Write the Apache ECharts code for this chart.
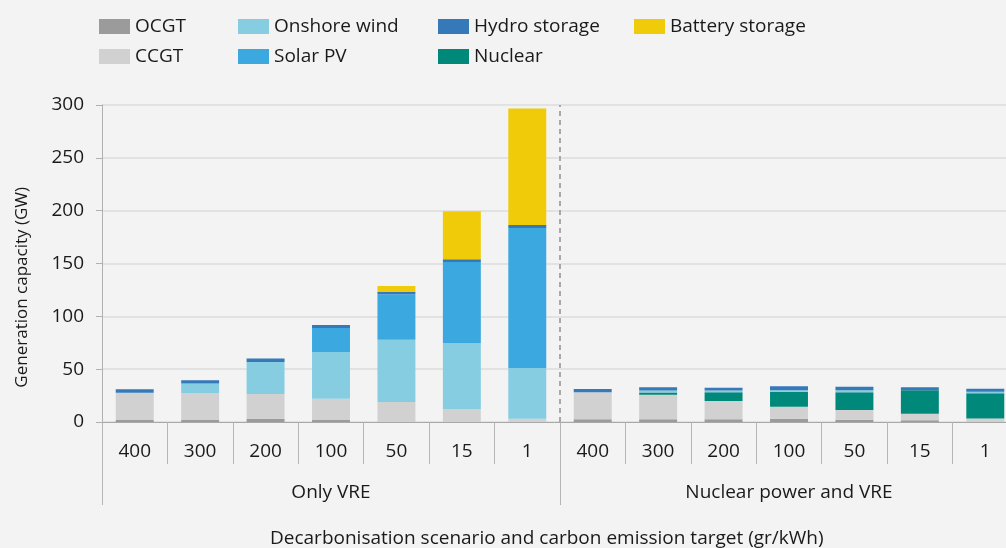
<!DOCTYPE html>
<html>
<head>
<meta charset="utf-8">
<script src="https://cdn.jsdelivr.net/npm/echarts@6/dist/echarts.min.js"></script>
<style>
  html, body { margin: 0; padding: 0; background: #f3f3f3; }
  #chart { width: 1006px; height: 548px; }
</style>
</head>
<body>
<div id="chart"></div>
<script>
// carbon target per scenario (gr/kWh)
var targets = ["400", "300", "200", "100", "50", "15", "1", "400", "300", "200", "100", "50", "15", "1"];
var scenarios = ["Only VRE", "Nuclear power and VRE"];
var yTicks = [0, 50, 100, 150, 200, 250, 300];

// generation capacity, GW
var ocgt = [2, 2, 3, 2, 0, 0, 0, 2.5, 2.5, 2.5, 3, 2.2, 1.6, 0];
var ccgt = [25.7, 25.4, 23.5, 20, 18.9, 12.3, 3, 25.6, 23.4, 17.4, 11.5, 9.2, 6.3, 3.2];
var nuclear = [0, 0, 0, 0, 0, 0, 0, 0, 1.9, 8.2, 14.2, 16.7, 22.1, 23.9];
var onshoreWind = [0, 9, 30.3, 44.2, 59, 62.4, 48, 0, 1.9, 1.6, 1.3, 1.9, 0, 1.6];
var solarPV = [0, 0, 0, 22.8, 43, 76.8, 132.7, 0, 0, 0, 0, 0, 0, 0];
var hydroStorage = [3.3, 3, 3.2, 2.8, 2.2, 2.6, 2.8, 3.1, 3.1, 2.8, 3.8, 3.4, 2.8, 2.8];
var batteryStorage = [0, 0, 0, 0, 5.7, 45.4, 110.3, 0, 0, 0, 0, 0, 0, 0];

var FONT = "Open Sans";
var TEXT = "#1a1a1a";
var myChart = null;

window.onload = function () {
  myChart = echarts.init(document.getElementById("chart"));
  drawChart();
};

function barSeries(name, data, color) {
  return {
    name: name,
    type: "bar",
    stack: "total",
    barWidth: "58%",
    xAxisIndex: 0,
    itemStyle: { color: color },
    data: data,
  };
}

function legendCol(left, names) {
  return {
    orient: "vertical",
    left: left,
    top: 12,
    itemGap: 11,
    itemWidth: 31,
    itemHeight: 15,
    icon: "rect",
    textStyle: { fontFamily: FONT, fontSize: 19, color: TEXT },
    data: names,
  };
}

function drawChart() {
  myChart.setOption({
    backgroundColor: "#f3f3f3",
    animation: false,
    textStyle: { fontFamily: FONT },
    legend: [
      legendCol(94, ["OCGT", "CCGT"]),
      legendCol(233, ["Onshore wind", "Solar PV"]),
      legendCol(433, ["Hydro storage", "Nuclear"]),
      legendCol(629, ["Battery storage"]),
    ],
    // the last category runs past the right edge of the picture
    grid: { left: 102, right: -12, top: 105, bottom: 126, outerBoundsMode: "none" },
    graphic: [
      {
        type: "text",
        left: 14,
        top: 187,
        rotation: Math.PI / 2,
        style: {
          text: "Generation capacity (GW)",
          fontFamily: FONT,
          fontSize: 17,
          fill: TEXT,
        },
      },
      {
        type: "text",
        left: 270,
        bottom: 0,
        style: {
          text: "Decarbonisation scenario and carbon emission target (gr/kWh)",
          fontFamily: FONT,
          fontSize: 19,
          fill: TEXT,
        },
      },
    ],
    xAxis: [
      {
        type: "category",
        data: targets,
        axisLine: { show: true, lineStyle: { color: "#a8a8a8", width: 1 } },
        axisTick: { show: true, interval: 0, length: 42, lineStyle: { color: "#b5b5b5" } },
        axisLabel: { interval: 0, margin: 20, fontSize: 19, color: TEXT, fontFamily: FONT },
      },
      {
        type: "category",
        data: scenarios,
        position: "bottom",
        axisLine: { show: false },
        axisTick: { show: true, interval: 0, length: 83, lineStyle: { color: "#b5b5b5" } },
        axisLabel: { interval: 0, margin: 61, fontSize: 19, color: TEXT, fontFamily: FONT },
      },
      {
        // hidden helper axis for the dashed scenario divider
        type: "value",
        min: 0,
        max: targets.length,
        show: false,
      },
    ],
    yAxis: {
      type: "value",
      min: yTicks[0],
      max: yTicks[yTicks.length - 1],
      interval: 50,
      axisLine: { show: true, lineStyle: { color: "#b0b0b0" } },
      axisTick: { show: true, length: 6, lineStyle: { color: "#b0b0b0" } },
      axisLabel: { margin: 18, fontSize: 19, color: TEXT, fontFamily: FONT },
      splitLine: { lineStyle: { color: "#dcdcdc", width: 1.5 } },
    },
    series: [
      barSeries("OCGT", ocgt, "#9b9b9b"),
      barSeries("CCGT", ccgt, "#d1d1d1"),
      barSeries("Nuclear", nuclear, "#00897a"),
      barSeries("Onshore wind", onshoreWind, "#86cde2"),
      barSeries("Solar PV", solarPV, "#3ba9e0"),
      barSeries("Hydro storage", hydroStorage, "#3579b8"),
      barSeries("Battery storage", batteryStorage, "#f0cb0a"),
      {
        type: "line",
        xAxisIndex: 2,
        data: [],
        silent: true,
        markLine: {
          silent: true,
          symbol: "none",
          label: { show: false },
          lineStyle: { color: "#a8a8a8", type: [5, 4], width: 2 },
          data: [{ xAxis: targets.length / 2 }],
        },
      },
    ],
  });
}
</script>
</body>
</html>
